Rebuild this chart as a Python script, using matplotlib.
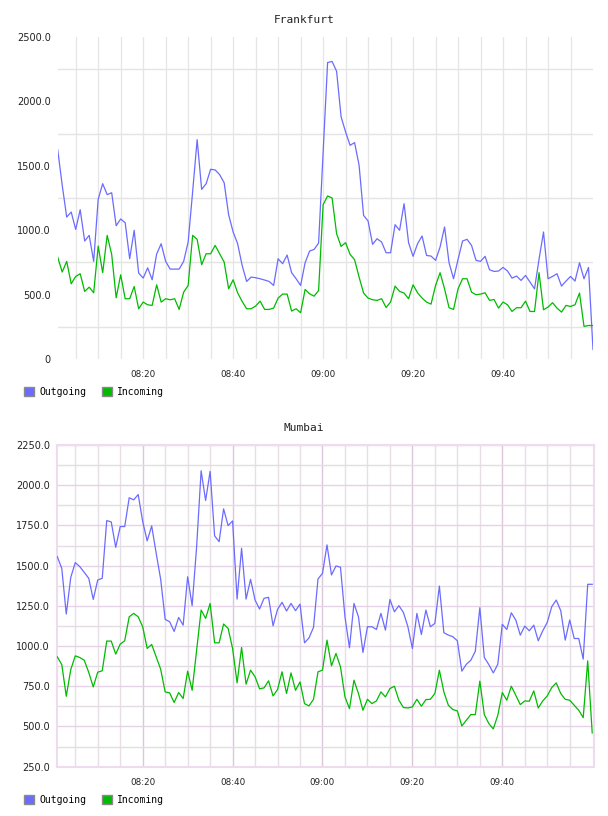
import numpy as np
import matplotlib
matplotlib.use("Agg")
import matplotlib.pyplot as plt
from matplotlib.patches import Patch
from matplotlib.ticker import FixedLocator, FixedFormatter

# x positions: minutes after 08:00 (one sample per minute, 08:01 .. 10:00)
minutes = np.arange(1, 121)
xtick_pos = [20, 40, 60, 80, 100]
xtick_labels = ["08:20", "08:40", "09:00", "09:20", "09:40"]
series_names = ["Outgoing", "Incoming"]

frankfurt_out = [1625, 1350, 1102, 1141, 1006, 1159, 916, 960, 758, 1240,
                 1361, 1276, 1291, 1035, 1087, 1058, 778, 999, 667, 628,
                 708, 615, 815, 895, 758, 698, 698, 698, 758, 908,
                 1300, 1703, 1317, 1361, 1473, 1468, 1431, 1369, 1120, 986,
                 895, 727, 602, 636, 631, 623, 613, 602, 571, 778,
                 740, 807, 670, 623, 571, 747, 838, 851, 900, 1600,
                 2302, 2310, 2234, 1880, 1763, 1659, 1680, 1504, 1115, 1071,
                 890, 934, 908, 825, 825, 1043, 999, 1206, 903, 797,
                 895, 955, 804, 799, 766, 869, 1025, 747, 623, 773,
                 916, 929, 882, 766, 758, 797, 693, 680, 683, 711,
                 683, 628, 644, 610, 649, 597, 545, 773, 986, 623,
                 641, 662, 566, 605, 641, 605, 747, 623, 711, 74]
frankfurt_in = [791, 675, 758, 584, 641, 662, 525, 558, 514, 877,
                670, 960, 812, 475, 654, 468, 468, 563, 390, 442,
                421, 416, 576, 442, 468, 460, 468, 385, 519, 571,
                960, 929, 732, 817, 817, 882, 817, 753, 545, 615,
                514, 447, 390, 390, 411, 449, 385, 385, 395, 473,
                504, 504, 372, 390, 359, 540, 506, 488, 532, 1198,
                1266, 1250, 973, 874, 903, 812, 771, 636, 512, 473,
                460, 455, 468, 400, 442, 566, 525, 512, 468, 576,
                514, 473, 442, 426, 571, 670, 545, 398, 385, 545,
                623, 623, 519, 499, 504, 514, 455, 462, 395, 442,
                421, 369, 398, 398, 449, 369, 369, 670, 382, 403,
                437, 395, 364, 416, 408, 421, 512, 253, 260, 260]
mumbai_out = [1556, 1483, 1199, 1427, 1519, 1494, 1458, 1421, 1290, 1411,
              1421, 1780, 1772, 1614, 1743, 1743, 1922, 1909, 1942, 1774,
              1654, 1747, 1577, 1415, 1166, 1151, 1091, 1178, 1130, 1431,
              1251, 1618, 2090, 1905, 2086, 1685, 1649, 1853, 1749, 1778,
              1292, 1608, 1292, 1415, 1286, 1230, 1297, 1303, 1126, 1228,
              1272, 1218, 1265, 1220, 1261, 1020, 1051, 1116, 1417, 1452,
              1629, 1442, 1498, 1490, 1182, 989, 1265, 1182, 960, 1120,
              1120, 1103, 1203, 1099, 1290, 1213, 1251, 1209, 1120, 985,
              1203, 1072, 1224, 1120, 1141, 1373, 1083, 1068, 1058, 1033,
              844, 887, 912, 968, 1238, 929, 885, 833, 887, 1135,
              1103, 1207, 1162, 1068, 1124, 1095, 1130, 1033, 1095, 1147,
              1245, 1286, 1220, 1037, 1162, 1047, 1047, 919, 1384, 1384]
mumbai_in = [933, 885, 688, 854, 939, 929, 912, 836, 746, 838,
             846, 1031, 1031, 950, 1012, 1033, 1182, 1203, 1182, 1120,
             985, 1010, 933, 856, 715, 709, 649, 711, 674, 844,
             725, 975, 1224, 1172, 1265, 1020, 1020, 1137, 1110, 985,
             771, 991, 763, 850, 809, 734, 740, 784, 690, 730,
             840, 705, 833, 725, 777, 642, 628, 669, 840, 850,
             1037, 877, 954, 871, 684, 611, 788, 705, 601, 669,
             642, 659, 715, 684, 736, 750, 663, 618, 615, 622,
             669, 626, 667, 669, 705, 850, 715, 632, 605, 597,
             503, 539, 574, 574, 782, 574, 518, 485, 570, 711,
             663, 750, 694, 636, 659, 657, 721, 615, 659, 690,
             742, 771, 705, 669, 663, 632, 601, 555, 908, 460]

top_yticks = [0, 500, 1000, 1500, 2000, 2500]
top_ylabels = ["0", "500.0", "1000.0", "1500.0", "2000.0", "2500.0"]
bot_yticks = [250, 500, 750, 1000, 1250, 1500, 1750, 2000, 2250]
bot_ylabels = ["250.0", "500.0", "750.0", "1000.0", "1250.0", "1500.0",
               "1750.0", "2000.0", "2250.0"]

BLUE = "#6b6bff"
GREEN = "#00bb00"
W, H = 608, 816

fig = plt.figure(figsize=(W / 100, H / 100), dpi=100)
fig.patch.set_facecolor("white")


def frac_box(x0, x1, ytop, ybot):
    return [x0 / W, 1 - ybot / H, (x1 - x0) / W, (ybot - ytop) / H]


def style_common(ax, yticks, ylabels):
    ax.set_yticks(yticks)
    ax.set_yticklabels(ylabels)
    ax.set_xticks(xtick_pos)
    ax.set_xticklabels(xtick_labels)
    ax.tick_params(axis="y", length=0, pad=5, labelsize=7, labelcolor="#222222")
    ax.tick_params(axis="x", length=0, pad=8, labelsize=6.3, labelcolor="#222222")
    for lab in ax.get_xticklabels() + ax.get_yticklabels():
        lab.set_family("DejaVu Sans")


# ---------------- Frankfurt ----------------
ax1 = fig.add_axes(frac_box(57.7, 593, 37, 359))
ax1.set_xlim(1, 120)
ax1.set_ylim(0, 2500)
for m in range(5, 120, 5):
    ax1.axvline(m, color="#e6e6e6", lw=0.9, zorder=0)
for v in [250, 750, 1250, 1750, 2250]:
    ax1.axhline(v, color="#e4e4e4", lw=1.0, zorder=0)
for s in ax1.spines.values():
    s.set_visible(False)
style_common(ax1, top_yticks, top_ylabels)
ax1.plot(minutes, frankfurt_out, color=BLUE, lw=0.9, zorder=3)
ax1.plot(minutes, frankfurt_in, color=GREEN, lw=0.9, zorder=3)

# ---------------- Mumbai ----------------
ax2 = fig.add_axes(frac_box(56.7, 594, 445, 766.7))
ax2.set_xlim(0.87, 120.4)
ax2.set_ylim(250, 2250)
for m in range(5, 120, 5):
    major = (m % 20 == 0)
    ax2.axvline(m, color="#dcc6dc" if major else "#e6e0e6",
                lw=1.0, zorder=0)
for v in range(375, 2250, 250):
    ax2.axhline(v, color="#e4dee4", lw=1.0, zorder=0)
for v in bot_yticks:
    ax2.axhline(v, color="#e6d2e6", lw=1.0, zorder=0)
for s in ax2.spines.values():
    s.set_color("#eedcee")
    s.set_linewidth(1.5)
style_common(ax2, bot_yticks, bot_ylabels)
ax2.plot(minutes, mumbai_out, color=BLUE, lw=0.9, zorder=3)
ax2.plot(minutes, mumbai_in, color=GREEN, lw=0.9, zorder=3)

# ---------------- Titles ----------------
fig.text(304 / W, 1 - 20 / H, "Frankfurt", ha="center", va="center",
         family="DejaVu Sans Mono", size=8, color="#222222")
fig.text(304 / W, 1 - 428 / H, "Mumbai", ha="center", va="center",
         family="DejaVu Sans Mono", size=8, color="#222222")

# ---------------- Legends ----------------
def add_legend(ycenter):
    handles = [Patch(facecolor=BLUE, edgecolor="#8a8a8a", lw=1.0),
               Patch(facecolor=GREEN, edgecolor="#8a8a8a", lw=1.0)]
    fig.legend(handles, series_names, loc="center left",
               bbox_to_anchor=(24 / W, 1 - ycenter / H), ncol=2,
               frameon=False, borderpad=0, borderaxespad=0,
               handlelength=1.05, handleheight=1.05, handletextpad=0.5,
               columnspacing=1.6,
               prop={"family": "DejaVu Sans Mono", "size": 7})


add_legend(392)
add_legend(800)

fig.savefig("out.png", dpi=100, facecolor="white")
